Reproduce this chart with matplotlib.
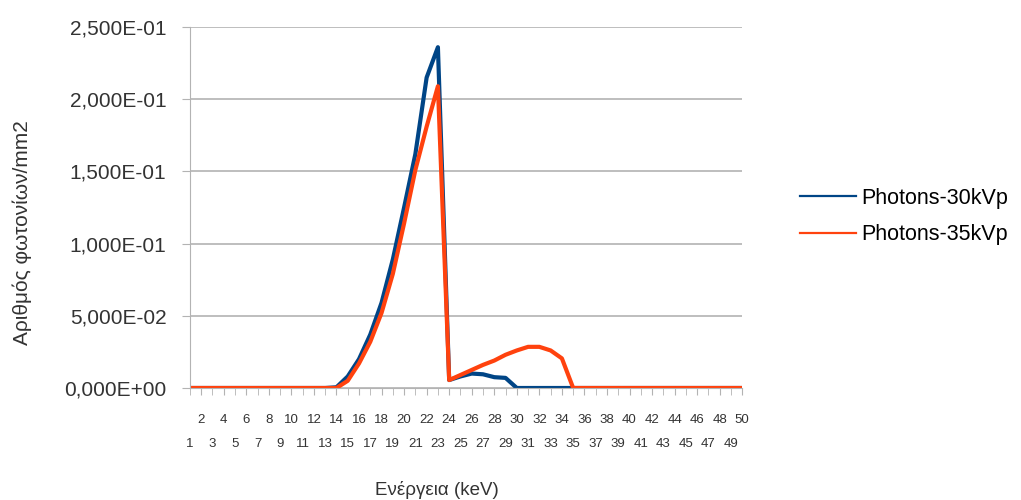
import numpy as np
import matplotlib.pyplot as plt
from matplotlib.ticker import FuncFormatter

# energy bins (keV) and photon counts per mm2 for the two tube voltages
energy_kev = np.arange(1, 51)

photons_30kvp = [0.0] * 13 + [
    0.0005, 0.008, 0.020, 0.037, 0.059, 0.089, 0.125, 0.162, 0.215, 0.236,   # 14-23
    0.0055, 0.008, 0.010, 0.0095, 0.0075, 0.007,                            # 24-29
] + [0.0] * 21

photons_35kvp = [0.0] * 13 + [
    0.0, 0.005, 0.017, 0.032, 0.052, 0.079, 0.114, 0.151, 0.181, 0.209,     # 14-23
    0.0055, 0.009, 0.0125, 0.016, 0.019, 0.023, 0.026, 0.0285, 0.0285,      # 24-32
    0.026, 0.0205,                                                          # 33-34
] + [0.0] * 16

series_labels = ['Photons-30kVp', 'Photons-35kVp']
series_colors = ['#004586', '#ff420e']
y_ticks = [0.0, 0.05, 0.10, 0.15, 0.20, 0.25]

plt.rcParams['font.family'] = ['Liberation Sans', 'DejaVu Sans']


def sci_comma(v, pos):
    # LibreOffice style scientific label: 2,500E-01
    if v == 0:
        return '0,000E+00'
    exp = int(np.floor(np.log10(abs(v))))
    mant = v / 10 ** exp
    return '{:.3f}E{:+03d}'.format(mant, exp).replace('.', ',')


fig = plt.figure(figsize=(10.21, 5.0), dpi=100)
ax = fig.add_axes([0.186, 0.224, 0.541, 0.722])

ax.plot(energy_kev, photons_30kvp, color=series_colors[0], linewidth=3, label=series_labels[0])
ax.plot(energy_kev, photons_35kvp, color=series_colors[1], linewidth=3, label=series_labels[1])

ax.set_xlim(1, 50)
ax.set_ylim(0, 0.25)
ax.set_yticks(y_ticks)
ax.yaxis.set_major_formatter(FuncFormatter(sci_comma))
ax.grid(axis='y', color='#b3b3b3', linewidth=1.2)
ax.set_axisbelow(True)

# staggered category labels: even on the first row, odd on the second
even = energy_kev[energy_kev % 2 == 0]
odd = energy_kev[energy_kev % 2 == 1]
ax.set_xticks(even, [str(c) for c in even])
ax.set_xticks(odd, [str(c) for c in odd], minor=True)
ax.tick_params(axis='x', which='major', length=5, pad=14, labelsize=9.5, colors='#b3b3b3', labelcolor='#333333')
ax.tick_params(axis='x', which='minor', length=5, pad=31, labelsize=9.5, colors='#b3b3b3', labelcolor='#333333')
ax.tick_params(axis='y', length=6, labelsize=15, colors='#b3b3b3', labelcolor='#333333', pad=11)

for s in ['top', 'right']:
    ax.spines[s].set_visible(False)
for s in ['left', 'bottom']:
    ax.spines[s].set_color('#b3b3b3')

ax.set_xlabel('Ενέργεια (keV)', fontsize=13.5, color='#333333')
ax.xaxis.set_label_coords(0.447, -0.283)
ax.xaxis.label.set_va('center')
ax.set_ylabel('Αριθμός φωτονίων/mm2', fontsize=15, color='#333333')
ax.yaxis.set_label_coords(-0.304, 0.43)
ax.yaxis.label.set_va('center')

leg = fig.legend(loc='center left', bbox_to_anchor=(0.7835, 0.567), frameon=False,
                 fontsize=15.5, handlelength=2.6, labelspacing=0.7, handletextpad=0.25,
                 borderpad=0, borderaxespad=0)
for line in leg.get_lines():
    line.set_linewidth(1.6)

fig.savefig('out.png', dpi=100)
